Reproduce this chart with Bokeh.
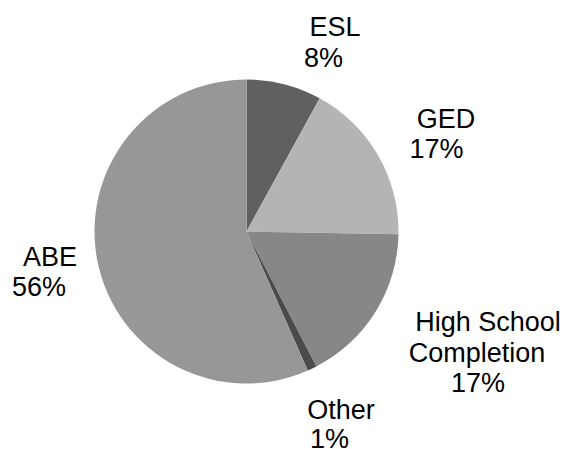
import math
from bokeh.plotting import figure
from bokeh.models import Range1d, ColumnDataSource
from bokeh.core.properties import value
from bokeh.embed import file_html
from bokeh.resources import INLINE

# ---- data ----
categories = ["ESL", "GED", "High School Completion", "Other", "ABE"]
shares = [8.0, 17.3, 17.1, 1.0, 56.6]
pct_labels = ["8%", "17%", "17%", "1%", "56%"]
colors = ["#606060", "#b4b4b4", "#878787", "#4a4a4a", "#979797"]

# ---- layout ----
W, H = 567, 449
CX, CY, R = 246, 449 - 231, 152
BASE_SHIFT = 10  # renderer draws text slightly below the requested baseline

p = figure(width=W, height=H, output_backend="svg", toolbar_location=None,
           x_range=Range1d(0, W), y_range=Range1d(0, H), min_border=0)
p.axis.visible = False
p.grid.visible = False
p.outline_line_color = None
p.background_fill_color = "white"
p.border_fill_color = "white"

total = sum(shares)
starts, ends = [], []
cum = 0.0
for s in shares:
    starts.append(math.pi / 2 - 2 * math.pi * cum / total)
    cum += s
    ends.append(math.pi / 2 - 2 * math.pi * cum / total)

src = ColumnDataSource(dict(cat=categories, start=starts, end=ends, color=colors,
                            x=[CX] * len(categories), y=[CY] * len(categories)))
p.wedge(x="x", y="y", radius=R, start_angle="start", end_angle="end",
        direction="clock", fill_color="color", line_color=None, source=src)

# label lines: (text, center x px, baseline y px from top)
name_lines = {
    "ESL": [("ESL", 334.5, 36)],
    "GED": [("GED", 445.5, 128)],
    "High School Completion": [("High School", 487.5, 331), ("Completion", 476.5, 362)],
    "Other": [("Other", 340.5, 419)],
    "ABE": [("ABE", 49.5, 266)],
}
pct_pos = {
    "ESL": (323, 67),
    "GED": (436, 158),
    "High School Completion": (477.5, 392),
    "Other": (329, 448),
    "ABE": (38.5, 296),
}

tx, ty, tt = [], [], []
for cat, pl in zip(categories, pct_labels):
    for (t, px, py) in name_lines[cat]:
        tx.append(px); ty.append(H - py + BASE_SHIFT); tt.append(t)
    px, py = pct_pos[cat]
    tx.append(px); ty.append(H - py + BASE_SHIFT); tt.append(pl)

p.text(x=tx, y=ty, text=tt, text_align="center", text_baseline="alphabetic",
       text_font=value("Liberation Sans"), text_font_size="27px", text_color="#000000")

open("out.html", "w").write(file_html(p, INLINE))
